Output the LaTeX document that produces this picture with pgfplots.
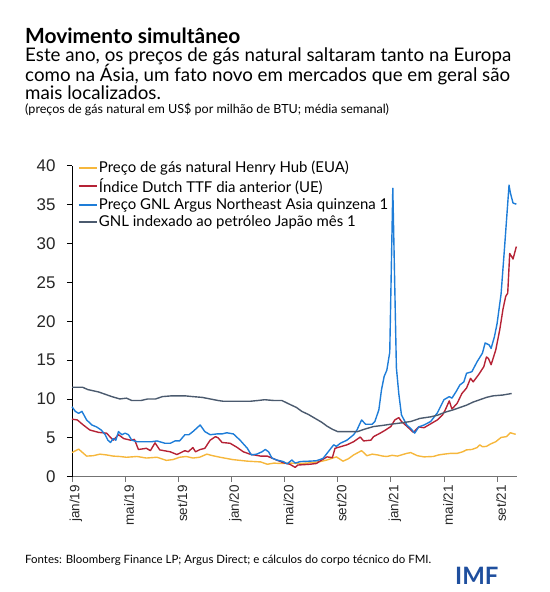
\documentclass[border=0pt]{standalone}
\usepackage{fontspec}
\setmainfont{Lato}
\newfontfamily\tickfont{Liberation Sans}
\usepackage{pgfplots}
\pgfplotsset{compat=1.18}
\definecolor{hhub}{HTML}{F6B73C}
\definecolor{ttf}{HTML}{B52235}
\definecolor{argus}{HTML}{1E7DD8}
\definecolor{jpn}{HTML}{4B5A6E}
\definecolor{imfblue}{HTML}{1F4F9E}

\begin{document}
\begin{tikzpicture}[x=1bp,y=1bp]
\begin{axis}[
  anchor=origin,
  scale only axis, width=445bp, height=311bp,
  xmin=0, xmax=33.5, ymin=0, ymax=40,
  axis lines=left, axis line style={-},
  x axis line style={black!55, line width=0.7pt},
  y axis line style={black, line width=0.7pt},
  xtick={0,4,...,32},
  xticklabels={jan/19,mai/19,set/19,jan/20,mai/20,set/20,jan/21,mai/21,set/21},
  ytick={0,5,...,40},
  tick align=outside, major tick length=5bp,
  x tick style={black!55, line width=0.7pt},
  y tick style={black, line width=0.7pt},
  /pgf/number format/assume math mode=true,
  yticklabel style={font=\tickfont\fontsize{17}{17}\selectfont, text=black!85, xshift=-8bp},
  xticklabel style={font=\tickfont\fontsize{13.5}{14}\selectfont, text=black!85, rotate=90, anchor=east, yshift=-4bp},
  clip=false,
  legend style={draw=none, fill=none, at={(0.013,1.019)}, anchor=north west,
    font=\fontsize{15}{17}\selectfont, row sep=2.5bp, column sep=0pt, inner sep=0pt,
    nodes={inner sep=1bp}, cells={anchor=west}},
  legend image code/.code={\draw[#1, line width=2bp] (0bp,0bp) -- (18bp,0bp);},
  every axis plot/.append style={line width=1.4pt, line join=round},
]
\addplot[hhub] coordinates {(0,3.1) (0.5,3.55) (1.1,2.65) (1.6,2.7) (2.1,2.9) (2.6,2.8) (3.1,2.65) (3.6,2.6) (4.1,2.5) (4.9,2.6) (5.6,2.4) (6.4,2.5) (7.1,2.1) (7.6,2.2) (8.1,2.5) (8.6,2.6) (9.1,2.4) (9.6,2.5) (10.15,2.9) (10.6,2.7) (11.15,2.5) (12.1,2.2) (13.2,2.0) (14.2,1.9) (14.7,1.6) (15.2,1.75) (15.7,1.7) (16.4,1.75) (17.1,1.7) (17.7,1.75) (18.2,1.85) (18.7,1.95) (19.2,2.15) (19.9,2.55) (20.4,2.0) (20.8,2.3) (21.2,2.8) (21.8,3.35) (22.2,2.7) (22.6,2.9) (23.0,2.8) (23.4,2.65) (23.7,2.6) (24.1,2.75) (24.5,2.65) (25.2,3.0) (25.5,3.1) (26.0,2.7) (26.5,2.55) (27.2,2.6) (27.6,2.8) (28.0,2.9) (28.5,3.0) (29.0,3.0) (29.4,3.2) (29.7,3.45) (30.1,3.5) (30.5,3.75) (30.7,4.1) (30.9,3.85) (31.2,3.9) (31.5,4.2) (31.9,4.5) (32.3,5.05) (32.7,5.15) (33.0,5.65) (33.4,5.45)};
\addplot[ttf] coordinates {(0,7.4) (0.4,7.3) (0.85,6.65) (1.35,6.0) (2.0,5.7) (2.6,5.6) (3.1,4.7) (3.5,5.4) (3.9,4.9) (4.4,4.7) (4.7,4.8) (5.0,3.5) (5.6,3.65) (5.9,3.35) (6.25,4.35) (6.6,3.45) (7.4,3.2) (7.9,2.85) (8.5,3.35) (8.75,3.2) (9.1,3.75) (9.3,3.2) (9.65,3.5) (10.0,3.65) (10.4,4.7) (10.8,5.15) (11.0,5.0) (11.3,4.4) (11.9,4.3) (12.4,3.8) (12.9,3.2) (13.4,2.9) (14.2,2.65) (14.7,2.65) (14.9,2.5) (15.4,2.15) (15.9,1.8) (16.4,1.6) (16.8,1.2) (17.0,1.5) (17.9,1.6) (18.4,1.7) (18.8,2.15) (19.2,2.55) (19.6,2.45) (19.8,3.65) (20.2,3.85) (20.7,4.1) (21.2,4.5) (21.7,5.1) (21.95,4.6) (22.5,4.7) (22.7,5.15) (23.2,5.6) (23.6,6.0) (24.0,6.45) (24.3,7.3) (24.6,7.6) (24.8,7.1) (25.2,6.5) (25.7,5.7) (26.1,6.4) (26.5,6.3) (27.0,6.8) (27.5,7.3) (27.9,7.95) (28.1,8.6) (28.4,9.75) (28.6,8.7) (29.0,9.45) (29.35,10.7) (29.7,11.4) (30.0,12.65) (30.2,12.2) (30.6,13.1) (31.0,14.15) (31.2,15.4) (31.35,15.2) (31.55,14.4) (31.9,16.3) (32.2,18.9) (32.45,21.6) (32.65,23.2) (32.8,23.6) (32.95,28.7) (33.1,28.3) (33.2,28.0) (33.45,29.6)};
\addplot[argus] coordinates {(0,9.0) (0.25,8.4) (0.5,8.15) (0.75,8.4) (1.1,7.3) (1.5,6.65) (1.85,6.4) (2.2,6.0) (2.5,5.4) (2.7,4.7) (2.9,4.4) (3.1,4.9) (3.3,4.7) (3.5,5.8) (3.75,5.4) (4.0,5.6) (4.25,5.4) (4.5,4.7) (4.9,4.5) (5.5,4.5) (6.0,4.5) (6.4,4.6) (7.0,4.3) (7.4,4.3) (7.75,4.6) (8.1,4.6) (8.5,5.4) (8.8,5.4) (9.1,5.8) (9.65,6.65) (10.0,5.8) (10.4,5.4) (10.9,5.5) (11.3,5.5) (11.65,5.65) (12.15,5.5) (12.65,4.7) (13.2,3.65) (13.5,2.8) (13.9,2.9) (14.3,3.2) (14.55,3.5) (14.8,3.2) (15.05,2.4) (15.4,2.15) (15.9,1.95) (16.2,1.65) (16.55,2.15) (16.8,1.75) (17.2,1.95) (17.9,2.0) (18.4,2.05) (18.9,2.35) (19.4,3.45) (19.7,4.1) (19.9,3.9) (20.2,4.3) (20.7,4.7) (21.2,5.4) (21.45,6.0) (21.8,7.3) (22.1,6.75) (22.6,6.75) (22.8,7.1) (23.1,8.6) (23.3,11.2) (23.5,12.9) (23.7,13.7) (23.92,16.0) (24.15,37.1) (24.42,14.0) (24.6,10.7) (24.8,7.95) (25.2,6.65) (25.5,6.2) (25.8,5.6) (26.1,6.4) (26.5,6.65) (27.0,7.1) (27.5,8.2) (28.0,9.9) (28.4,10.3) (28.6,10.1) (28.9,10.9) (29.2,11.8) (29.5,12.2) (29.7,13.3) (30.1,13.5) (30.5,14.8) (30.9,15.9) (31.1,17.2) (31.4,16.95) (31.55,16.5) (31.8,18.0) (32.0,19.7) (32.3,23.5) (32.55,29.2) (32.9,37.5) (33.0,36.5) (33.2,35.2) (33.45,35.05)};
\addplot[jpn] coordinates {(0,11.5) (0.8,11.5) (1.2,11.2) (2.0,10.9) (2.5,10.6) (3.0,10.3) (3.6,10.0) (4.1,10.1) (4.5,9.8) (5.2,9.8) (5.7,10.0) (6.3,10.0) (6.8,10.3) (7.5,10.4) (8.5,10.4) (9.1,10.3) (9.8,10.2) (10.4,10.0) (11.0,9.8) (11.4,9.7) (13.4,9.7) (14.0,9.8) (14.5,9.9) (15.2,9.8) (15.8,9.8) (16.4,9.3) (16.9,8.9) (17.3,8.4) (17.8,8.0) (18.3,7.5) (18.8,7.0) (19.2,6.5) (19.6,6.1) (20.0,5.8) (21.5,5.8) (22.0,6.1) (22.7,6.45) (23.4,6.6) (24.0,6.75) (24.7,6.9) (25.5,7.1) (26.2,7.5) (27.0,7.7) (27.5,7.9) (28.1,8.3) (28.7,8.6) (29.2,8.9) (29.7,9.2) (30.2,9.6) (30.7,9.9) (31.2,10.2) (31.7,10.4) (32.4,10.5) (33.1,10.7)};
\legend{Preço de gás natural Henry Hub (EUA),Índice Dutch TTF dia anterior (UE),Preço GNL Argus Northeast Asia quinzena 1,GNL indexado ao petróleo Japão mês 1}
\end{axis}
\begin{scope}[shift={(-72,-115.3)}]
\node[anchor=base west, inner sep=0, font=\fontsize{21}{24}\selectfont\bfseries] at (25,548.5) {Movimento simultâneo};
\node[anchor=base west, inner sep=0, font=\fontsize{18.8}{20}\selectfont] at (25,530) {Este ano, os preços de gás natural saltaram tanto na Europa};
\node[anchor=base west, inner sep=0, font=\fontsize{18.8}{20}\selectfont] at (25,510.5) {como na Ásia, um fato novo em mercados que em geral são};
\node[anchor=base west, inner sep=0, font=\fontsize{18.8}{20}\selectfont] at (25,492) {mais localizados.};
\node[anchor=base west, inner sep=0, font=\fontsize{12.6}{14}\selectfont] at (25,478.7) {(preços de gás natural em US\$ por milhão de BTU; média semanal)};
\node[anchor=base west, inner sep=0, font=\fontsize{11.5}{13}\selectfont] at (25,28.7) {Fontes: Bloomberg Finance LP; Argus Direct; e cálculos do corpo técnico do FMI.};
\node[anchor=base west, inner sep=0, font=\fontsize{24}{26}\selectfont\bfseries, text=imfblue] at (455,7.7) {IMF};
\end{scope}
\pgfresetboundingbox
\useasboundingbox (-72,-115.3) rectangle (478,476.7);
\end{tikzpicture}
\end{document}
